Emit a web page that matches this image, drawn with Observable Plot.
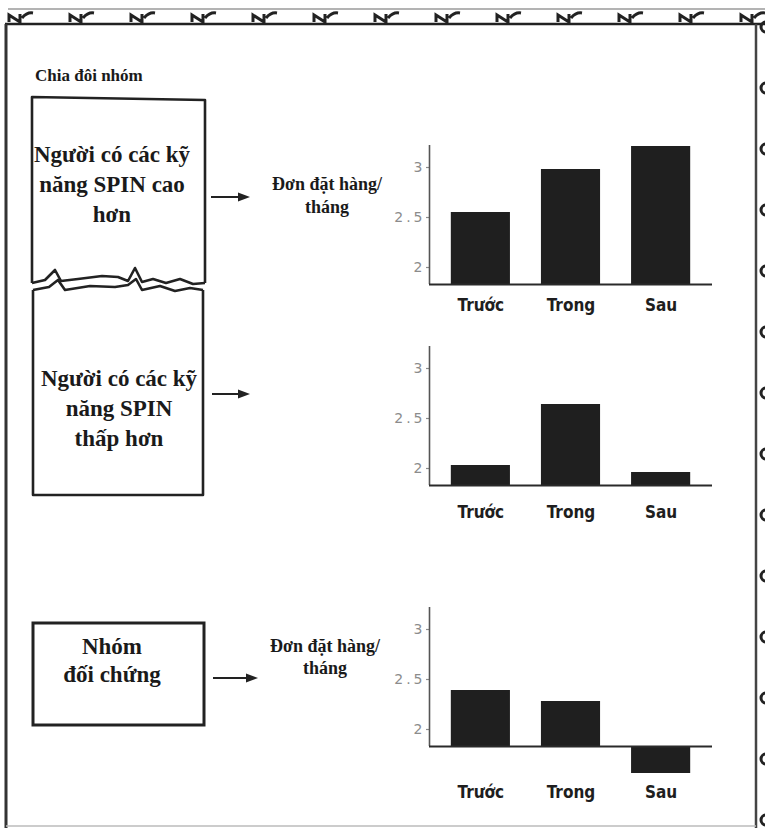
<!DOCTYPE html>
<html><head><meta charset="utf-8">
<script src="https://cdn.jsdelivr.net/npm/d3@7"></script>
<script src="https://cdn.jsdelivr.net/npm/@observablehq/plot@0.6"></script>
<style>
body{margin:0;background:#fff}
#page{position:relative;width:765px;height:828px;overflow:hidden;background:#fff}
.panel{position:absolute}
.panel svg{overflow:visible;background:transparent}
.panel g[aria-label="x-axis tick label"] text{font-family:"DejaVu Sans Condensed","Liberation Sans Narrow","DejaVu Sans",sans-serif;font-size:17px;font-weight:bold;fill:#1e1e1e}
.panel g[aria-label="y-axis tick label"] text{font-family:"DejaVu Sans",sans-serif;font-size:14px;fill:#8c8c8c;letter-spacing:3px}
.panel g[aria-label="y-axis tick"] path{stroke:#8c8c8c;stroke-width:1.2}
.deco text{font-family:"Liberation Serif","Times New Roman",serif;font-weight:bold;fill:#1a1a1a}
</style></head><body><div id="page"></div>
<script>
// ---- data ----
const periods = ["Trước", "Trong", "Sau"];
const higherSkill = [2.55, 2.98, 3.21];
const lowerSkill = [2.03, 2.64, 1.96];
const controlGroup = [2.39, 2.28, 1.56];
const yTicks = [2, 2.5, 3];
const baseline = 1.83;
const sectionTitle = "Chia đôi nhóm";
const groupLabels = [
  ["Người có các kỹ", "năng SPIN cao", "hơn"],
  ["Người có các kỹ", "năng SPIN", "thấp hơn"],
  ["Nhóm", "đối chứng"]
];
const yTitle = ["Đơn đặt hàng/", "tháng"];

// ---- layout ----
const page = d3.select("#page");
const K = 100, yTop = 3.25, axisTop = 3.22;
const xDomain = [-0.07, 3.07];
const mT = 4, mB = 30, mL = 50, mR = 10, W = 343;
const panels = [
  {values: higherSkill, lo: 1.73, top: 138},
  {values: lowerSkill, lo: 1.67, top: 339},
  {values: controlGroup, lo: 1.48, top: 600}
];

for (const p of panels) {
  const rows = p.values.map((v, i) => ({i, period: periods[i], v}));
  const height = Math.round(mT + (yTop - p.lo) * K + mB);
  const chart = Plot.plot({
    width: W, height,
    marginTop: mT, marginBottom: mB, marginLeft: mL, marginRight: mR,
    style: {background: "transparent", overflow: "visible"},
    x: {domain: xDomain, ticks: periods.map((d, i) => i + 0.5), tickFormat: d => periods[Math.floor(d)], tickSize: 0, tickPadding: 4, label: null},
    y: {domain: [p.lo, yTop], ticks: yTicks, tickFormat: d => String(d), tickSize: 3, tickPadding: 1, label: null},
    marks: [
      Plot.rect(rows, {x1: "i", x2: d => d.i + 1, y1: baseline, y2: "v", insetLeft: 15.5, insetRight: 15.5, fill: "#1f1f1f"}),
      Plot.ruleX([xDomain[0]], {y1: baseline, y2: axisTop, stroke: "#555", strokeWidth: 1.6}),
      Plot.ruleY([baseline], {stroke: "#2a2a2a", strokeWidth: 2})
    ]
  });
  page.append("div").attr("class", "panel")
    .style("left", (429 - mL) + "px").style("top", p.top + "px")
    .node().appendChild(chart);
}

// ---- decorations (frame, boxes, arrows, text) ----
const deco = page.append("svg").attr("class", "deco")
  .attr("width", 765).attr("height", 828)
  .style("position", "absolute").style("left", 0).style("top", 0);

const ink = "#222";
deco.append("line").attr("x1", 8).attr("x2", 765).attr("y1", 9).attr("y2", 9).attr("stroke", "#9a9a9a").attr("stroke-width", 1.5);
deco.append("line").attr("x1", 5).attr("x2", 765).attr("y1", 24).attr("y2", 24).attr("stroke", ink).attr("stroke-width", 2.5);
for (let x = 9; x < 765; x += 61) {
  deco.append("path")
    .attr("d", `M${x},22V15L${x+11},22V14M${x+13},18Q${x+18},12 ${x+24},13`)
    .attr("fill", "none").attr("stroke", ink).attr("stroke-width", 3);
}
deco.append("line").attr("x1", 6).attr("x2", 6).attr("y1", 24).attr("y2", 828).attr("stroke", "#333").attr("stroke-width", 3);
deco.append("line").attr("x1", 756).attr("x2", 756).attr("y1", 24).attr("y2", 828).attr("stroke", "#444").attr("stroke-width", 2.5);
for (let y = 27; y < 828; y += 61) {
  deco.append("path").attr("d", `M766,${y-5}A5,5 0 1 0 766,${y+5}`)
    .attr("fill", "none").attr("stroke", ink).attr("stroke-width", 3);
}
deco.append("line").attr("x1", 6).attr("x2", 756).attr("y1", 826).attr("y2", 826).attr("stroke", "#bbb").attr("stroke-width", 1.5);

// boxes
const boxStroke = b => b.attr("fill", "none").attr("stroke", ink).attr("stroke-width", 2.6).attr("stroke-linejoin", "round");
boxStroke(deco.append("path").attr("d", "M32,283L32,97L205,100L205,283"));
boxStroke(deco.append("path").attr("d", "M32,283L45,280L55,270L61,281L78,279L102,276L118,277L128,281L135,268L142,282L153,279L166,283L180,279L193,284L205,283"));
boxStroke(deco.append("path").attr("d", "M33,290L33,495L203,495L203,290"));
boxStroke(deco.append("path").attr("d", "M33,290L49,287L58,280L65,290L90,286L115,287L128,285L136,279L142,290L160,286L175,291L190,288L203,290"));
deco.append("rect").attr("x", 33).attr("y", 623).attr("width", 171).attr("height", 102)
  .attr("fill", "none").attr("stroke", ink).attr("stroke-width", 3);

// arrows
for (const [x1, x2, y] of [[211, 250, 197], [212, 250, 394], [213, 258, 678]]) {
  deco.append("line").attr("x1", x1).attr("x2", x2 - 8).attr("y1", y).attr("y2", y).attr("stroke", ink).attr("stroke-width", 2);
  deco.append("path").attr("d", `M${x2},${y}L${x2-12},${y-4.5}L${x2-12},${y+4.5}Z`).attr("fill", ink);
}

// texts
deco.append("text").attr("x", 35).attr("y", 81).attr("font-size", 17).text(sectionTitle);
const groupPos = [{x: 112, ys: [162, 192, 222]}, {x: 119, ys: [386, 416, 446]}, {x: 112, ys: [654, 682]}];
groupLabels.forEach((lines, g) => {
  lines.forEach((t, j) => {
    deco.append("text").attr("x", groupPos[g].x).attr("y", groupPos[g].ys[j])
      .attr("text-anchor", "middle").attr("font-size", 23).text(t);
  });
});
for (const pos of [{x: 327, ys: [190, 213]}, {x: 325, ys: [652, 674]}]) {
  yTitle.forEach((t, j) => {
    deco.append("text").attr("x", pos.x).attr("y", pos.ys[j])
      .attr("text-anchor", "middle").attr("font-size", 18).text(t);
  });
}
</script></body></html>
